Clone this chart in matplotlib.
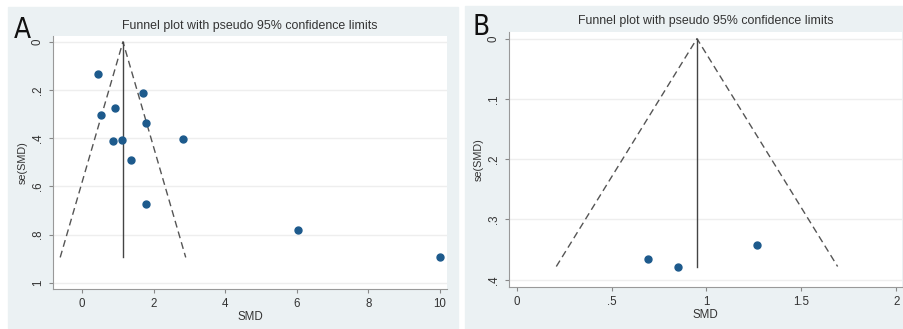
import matplotlib
matplotlib.use("Agg")
import matplotlib.pyplot as plt
from matplotlib.patches import Rectangle

plt.rcParams['font.family'] = ['Liberation Sans', 'DejaVu Sans']

# panel A data
smd_a = [0.44, 1.71, 0.92, 0.52, 1.78, 0.87, 1.13, 2.81, 1.37, 1.78, 6.05, 10.0]
se_a = [0.133, 0.213, 0.276, 0.303, 0.337, 0.412, 0.408, 0.404, 0.492, 0.672, 0.781, 0.895]
pooled_a = 1.145
xticks_a = [0, 2, 4, 6, 8, 10]
yticks_a = [0, 0.2, 0.4, 0.6, 0.8, 1.0]
ylabels_a = ['0', '.2', '.4', '.6', '.8', '1']

# panel B data
smd_b = [0.69, 0.85, 1.266]
se_b = [0.366, 0.378, 0.343]
pooled_b = 0.95
xticks_b = [0, 0.5, 1, 1.5, 2]
xlabels_b = ['0', '.5', '1', '1.5', '2']
yticks_b = [0, 0.1, 0.2, 0.3, 0.4]
ylabels_b = ['0', '.1', '.2', '.3', '.4']

title = 'Funnel plot with pseudo 95% confidence limits'
bg = '#ebf1f3'
dot = '#1d5a8c'

fig = plt.figure(figsize=(9.04, 3.29), dpi=100)
fig.patches.append(Rectangle((8/904, 1-328/329), 450/904, 321/329,
                             transform=fig.transFigure, color=bg, zorder=-5))
fig.patches.append(Rectangle((465/904, 0), 439/904, 1-6/329,
                             transform=fig.transFigure, color=bg, zorder=-5))


def funnel(ax, x, se, pooled, xlim, ylim, xt, xl, yt, yl):
    ax.set_facecolor('white')
    maxse = max(se)
    ax.plot([pooled - 1.96*maxse, pooled, pooled + 1.96*maxse], [maxse, 0, maxse],
            ls=(0, (5, 3)), color='#555555', lw=1)
    ax.plot([pooled, pooled], [0, maxse], color='#444444', lw=1)
    ax.plot(x, se, 'o', color=dot, ms=5, zorder=3)
    ax.set_xlim(*xlim)
    ax.set_ylim(*ylim)
    ax.set_xticks(xt)
    ax.set_xticklabels(xl)
    ax.set_yticks(yt)
    ax.set_yticklabels(yl, rotation=90, va='center')
    ax.grid(axis='y', color='#eeeeee', lw=1)
    ax.set_axisbelow(True)
    for s in ['top', 'right']:
        ax.spines[s].set_visible(False)
    for s in ['left', 'bottom']:
        ax.spines[s].set_color('#999999')
    ax.tick_params(colors='#333333', labelsize=8.3, length=3, width=0.8)
    ax.tick_params(axis='both', color='#888888')
    ax.set_xlabel('SMD', fontsize=8.3, color='#333333', labelpad=1)
    ax.set_ylabel('se(SMD)', fontsize=7.8, color='#333333', labelpad=3)


ax1 = fig.add_axes([53/904, 1-289/329, 394/904, 253/329])
funnel(ax1, smd_a, se_a, pooled_a, (-0.81, 10.2), (1.026, -0.024),
       xticks_a, [str(t) for t in xticks_a], yticks_a, ylabels_a)
ax1.set_title(title, fontsize=8.9, color='#333333', pad=5)

ax2 = fig.add_axes([509/904, 1-287/329, 393/904, 255/329])
funnel(ax2, smd_b, se_b, pooled_b, (-0.04, 2.03), (0.412, -0.011),
       xticks_b, xlabels_b, yticks_b, ylabels_b)
ax2.set_title(title, fontsize=8.9, color='#333333', pad=6)

fig.text(22/904, 1-30/329, 'A', fontsize=20, ha='center', va='center',
         family='DejaVu Sans', fontstretch='condensed', color='#111111')
fig.text(481/904, 1-27/329, 'B', fontsize=20, ha='center', va='center',
         family='DejaVu Sans', fontstretch='condensed', color='#111111')

fig.savefig('out.png', dpi=100)
